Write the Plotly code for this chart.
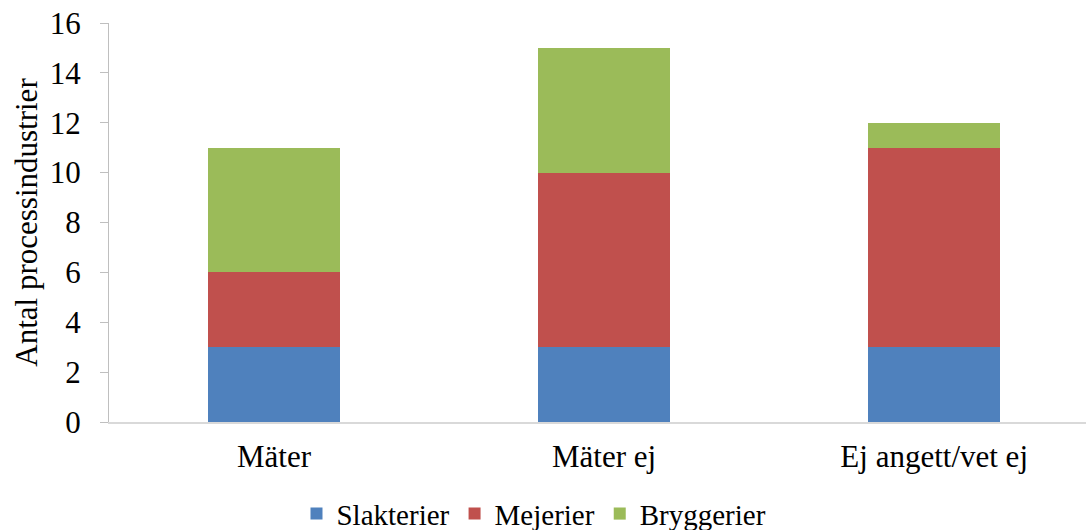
import plotly.graph_objects as go

categories = ["Mäter", "Mäter ej", "Ej angett/vet ej"]
slakterier = [3, 3, 3]
mejerier = [3, 7, 8]
bryggerier = [5, 5, 1]

series = [
    ("Slakterier", slakterier, "#4f81bd"),
    ("Mejerier", mejerier, "#c0504d"),
    ("Bryggerier", bryggerier, "#9bbb59"),
]

SERIF = "Times New Roman, Liberation Serif, serif"
axis_txt = dict(family=SERIF, size=31, color="black")
legend_txt = dict(family=SERIF, size=29, color="black")

fig = go.Figure()
for name, vals, color in series:
    fig.add_trace(go.Bar(
        name=name, x=categories, y=vals,
        marker=dict(color=color, line=dict(width=0)),
        width=0.4,
    ))

fig.update_layout(
    barmode="stack",
    width=1086, height=530,
    margin=dict(l=109, r=0, t=23, b=108, autoexpand=False),
    paper_bgcolor="white", plot_bgcolor="white",
    font=axis_txt,
    showlegend=True,
    legend=dict(
        orientation="h", traceorder="normal",
        x=0.435, xanchor="center", y=-0.23, yanchor="middle",
        font=legend_txt, itemwidth=30, tracegroupgap=0,
    ),
    xaxis=dict(
        range=[-0.5, 2.46], showline=True, linecolor="#d9d9d9", linewidth=2,
        ticks="", showgrid=False, tickfont=axis_txt, ticklabelstandoff=6,
    ),
    yaxis=dict(
        range=[0, 16], dtick=2, showline=True, linecolor="#bfbfbf", linewidth=1,
        ticks="outside", ticklen=8, tickcolor="#bfbfbf", showgrid=False,
        zeroline=False, tickfont=axis_txt, ticklabelstandoff=13,
        title=dict(text="Antal processindustrier", font=axis_txt, standoff=2),
    ),
)

fig.write_html("out.html")
